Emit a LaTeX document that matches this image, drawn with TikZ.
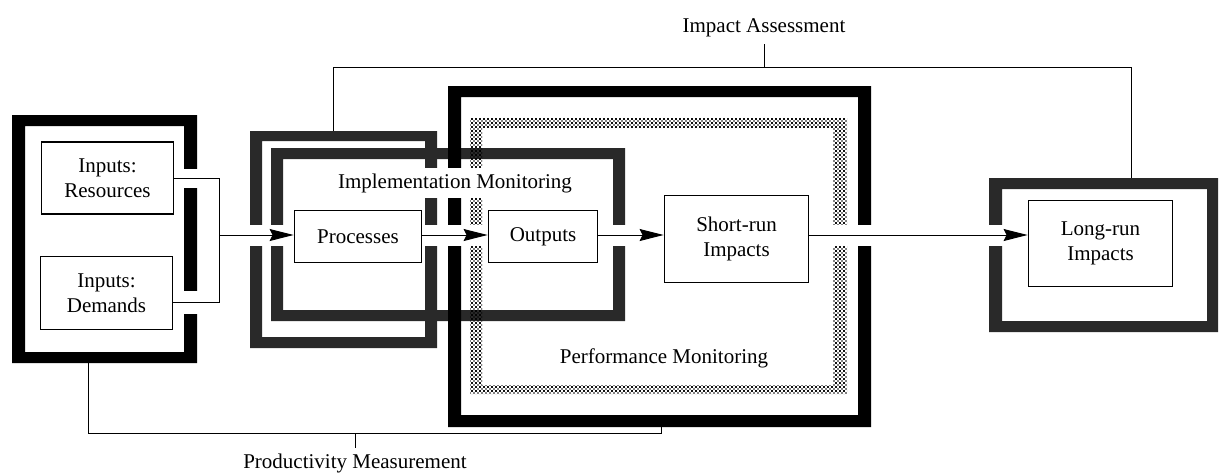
\documentclass[tikz,border=0pt]{standalone}
\usepackage{fontspec}
\setmainfont{Liberation Serif}
\usetikzlibrary{arrows.meta,patterns}
\pgfdeclarelayer{frames}
\pgfdeclarelayer{gaps}
\pgfsetlayers{frames,gaps,main}
\pgfdeclarepatternformonly{stipdots}{\pgfpoint{-1pt}{-1pt}}{\pgfpoint{5pt}{5pt}}{\pgfpoint{4pt}{4pt}}{%
  \pgfpathcircle{\pgfpoint{0pt}{0pt}}{0.85pt}%
  \pgfpathcircle{\pgfpoint{2pt}{2pt}}{0.85pt}%
  \pgfpathcircle{\pgfpoint{4pt}{0pt}}{0.85pt}%
  \pgfpathcircle{\pgfpoint{0pt}{4pt}}{0.85pt}%
  \pgfpathcircle{\pgfpoint{4pt}{4pt}}{0.85pt}%
  \pgfusepath{fill}%
}
\begin{document}
\begin{tikzpicture}[x=1pt,y=-1pt,
  box/.style={draw, line width=1.8pt, fill=white, align=center, inner sep=0pt, font=\fontsize{21}{25}\selectfont},
  lbl/.style={inner sep=0pt, font=\fontsize{21}{25}\selectfont},
  conn/.style={line width=1pt},
  bracket/.style={line width=0.8pt},
  arr/.style={line width=1pt, -{Stealth[length=24pt,width=12pt,inset=3pt]}},
  gapstrip/.style={white, line width=21pt},
  darkstip/.style={fill=black!84},
  lightstip/.style={pattern=stipdots, pattern color=black},
  blackframe/.style={fill=black},
]
\useasboundingbox (0,0) rectangle (1219,475);

% ---- frames ----
\begin{pgfonlayer}{frames}
  \fill[blackframe, even odd rule] (12,115) rectangle (197,363) (25,126) rectangle (184,352);
  \fill[darkstip, even odd rule] (250,131) rectangle (437,348) (262,141) rectangle (425,337);
  \fill[darkstip, even odd rule] (271,148) rectangle (625,321) (283,159) rectangle (613,310);
  \fill[lightstip, even odd rule] (470,118) rectangle (847,394) (482,128) rectangle (833,385);
  \fill[blackframe, even odd rule] (448,86) rectangle (871,427) (461,97) rectangle (858,415);
  \fill[darkstip, even odd rule] (989,178) rectangle (1218,332) (1002,189) rectangle (1207,321);
\end{pgfonlayer}

% ---- boxes ----
\node[box, minimum width=132pt, minimum height=72pt] (res) at (107.5,178) {Inputs:\\Resources};
\node[box, minimum width=132pt, minimum height=73pt] (dem) at (106.5,293) {Inputs:\\Demands};
\node[box, minimum width=127pt, minimum height=52pt] (proc) at (358,236.5) {Processes};
\node[box, minimum width=109pt, minimum height=52pt] (out) at (543,236.5) {Outputs};
\node[box, minimum width=144pt, minimum height=87pt] (short) at (736.5,239) {Short-run\\Impacts};
\node[box, minimum width=144pt, minimum height=86pt] (long) at (1100.5,243.5) {Long-run\\Impacts};

% ---- helper coordinates ----
\coordinate (axis) at (0,235);
\coordinate (j) at (219,235);
\coordinate (demout) at ([yshift=-9pt]dem.east);

% ---- gaps in the frames ----
\begin{pgfonlayer}{gaps}
  \draw[gapstrip, line width=19pt] (res.east) -- (j |- res.east);
  \draw[gapstrip, line width=23pt] (demout) -- (j |- demout);
  \draw[gapstrip] (j) -- (proc.west |- axis);
  \draw[gapstrip] (proc.east |- axis) -- (out.west |- axis);
  \draw[gapstrip] (out.east |- axis) -- (short.west |- axis);
  \draw[gapstrip] (short.east |- axis) -- (long.west |- axis);
\end{pgfonlayer}

% ---- labels ----
\node[lbl, fill=white, inner ysep=5pt, inner xsep=1pt, anchor=base] (impl) at (455,188) {Implementation Monitoring};
\node[lbl, anchor=base] (perf) at (664,363) {Performance Monitoring};
\node[lbl, anchor=base] (ia) at (764,32) {Impact Assessment};
\node[lbl, anchor=base] (pm) at (355,468) {Productivity Measurement};

% ---- connectors ----
\draw[conn] (res.east) -| (j |- demout) -- (demout);
\draw[arr] (j) -- (proc.west |- axis);
\draw[arr] (proc.east |- axis) -- (out.west |- axis);
\draw[arr] (out.east |- axis) -- (short.west |- axis);
\draw[arr] (short.east |- axis) -- (long.west |- axis);

% ---- brackets ----
\coordinate (iaL) at (333,131);
\coordinate (iaR) at (1131,178);
\coordinate (iaY) at (0,67);
\draw[bracket] (iaL) -- (iaL |- iaY) -- (iaR |- iaY) -- (iaR);
\draw[bracket] ([yshift=-12pt]ia.base) -- (ia.base |- iaY);

\coordinate (pmL) at (88,363);
\coordinate (pmR) at (661,427);
\coordinate (pmY) at (0,433);
\draw[bracket] (pmL) -- (pmL |- pmY) -- (pmR |- pmY) -- (pmR);
\draw[bracket] (pm.base |- pmY) -- ([yshift=20pt]pm.base);
\end{tikzpicture}
\end{document}
